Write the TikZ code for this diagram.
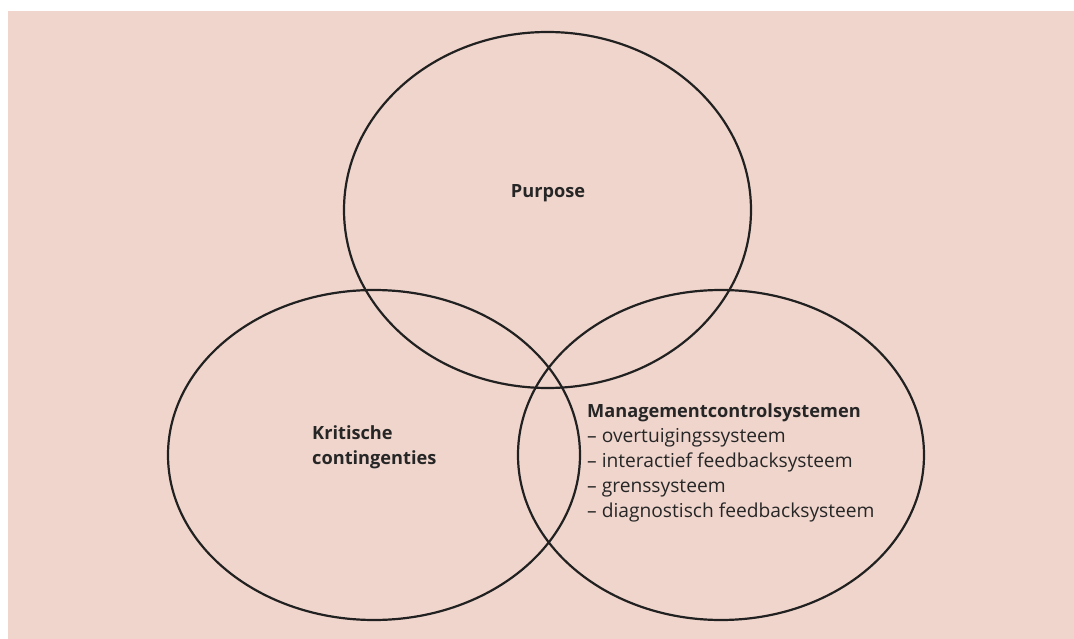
\documentclass[tikz,border=0pt]{standalone}
\usepackage{fontspec}
\setmainfont{Open Sans}
\begin{document}
\begin{tikzpicture}[x=1pt,y=-1pt,
  ring/.style={draw=black!87,line width=2.2pt},
  lbl/.style={anchor=base west,inner sep=0pt,font=\fontsize{19.2}{25}\selectfont,text=black!85},
  bld/.style={font=\fontsize{18.2}{25}\selectfont\bfseries},
  lblc/.style={anchor=base,inner sep=0pt,text=black!85}]
\definecolor{bg}{HTML}{F0D5CC}
\useasboundingbox (0,0) rectangle (1074,639);
\fill[bg] (8,11) rectangle (1074,639);
\draw[ring] (547.5,210) ellipse [x radius=203.5, y radius=178];
\draw[ring] (374,455) ellipse [x radius=206, y radius=165];
\draw[ring] (721,455) ellipse [x radius=203, y radius=165];
\node[lblc,bld] (purpose) at (548,198) {Purpose};
\node[lbl,bld,align=left] (krit) at (312,464) {Kritische\\contingenties};
\node[lbl,align=left] (mcs) at (587,517) {{\fontsize{18.2}{25}\selectfont\bfseries Managementcontrolsystemen}\\
– overtuigingssysteem\\
– interactief feedbacksysteem\\
– grenssysteem\\
– diagnostisch feedbacksysteem};
\end{tikzpicture}
\end{document}
